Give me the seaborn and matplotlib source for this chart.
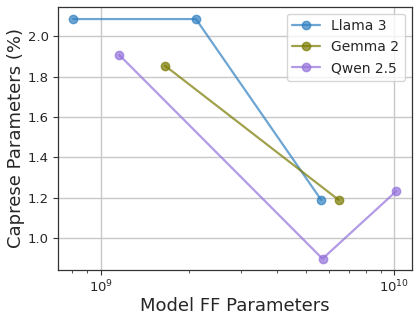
import matplotlib
matplotlib.use("Agg")
import matplotlib.pyplot as plt
import seaborn as sns
import pandas as pd

sns.set_style("ticks")
plt.rcParams["font.family"] = ["DejaVu Sans"]

models = ["Llama 3", "Gemma 2", "Qwen 2.5"]
llama_ff = [8.05e8, 2.11e9, 5.64e9]
llama_pct = [2.084, 2.084, 1.19]
gemma_ff = [1.656e9, 6.47e9]
gemma_pct = [1.853, 1.19]
qwen_ff = [1.156e9, 5.70e9, 1.019e10]
qwen_pct = [1.906, 0.899, 1.234]
colors = ["#2f7fc1", "#7a7a00", "#9370db"]

df = pd.concat([
    pd.DataFrame({"ff": llama_ff, "pct": llama_pct, "model": models[0]}),
    pd.DataFrame({"ff": gemma_ff, "pct": gemma_pct, "model": models[1]}),
    pd.DataFrame({"ff": qwen_ff, "pct": qwen_pct, "model": models[2]}),
])

fig = plt.figure(figsize=(4.19, 3.2), dpi=100)
ax = fig.add_axes([0.138, 0.156, 0.845, 0.823])
sns.lineplot(data=df, x="ff", y="pct", hue="model", palette=colors,
             marker="o", markersize=6, linewidth=1.6, alpha=0.7,
             markeredgecolor=None, markeredgewidth=1, ax=ax)

ax.set_xscale("log")
ax.set_xlim(7.13e8, 1.15e10)
ax.set_ylim(0.843, 2.145)
ax.set_yticks([1.0, 1.2, 1.4, 1.6, 1.8, 2.0])
ax.grid(True, which="major", color="#c8c8c8", linewidth=1)
ax.set_axisbelow(True)
for s in ax.spines.values():
    s.set_color("#333333")
    s.set_linewidth(0.9)
ax.tick_params(which="major", length=3.5, labelsize=9.5, color="#333333", pad=3)
ax.tick_params(which="minor", length=2, color="#333333")
ax.set_xlabel("Model FF Parameters", fontsize=13, labelpad=1)
ax.set_ylabel("Caprese Parameters (%)", fontsize=13, labelpad=2)
ax.legend(loc="upper right", fontsize=10, title=None)

fig.savefig("out.png", dpi=100)
